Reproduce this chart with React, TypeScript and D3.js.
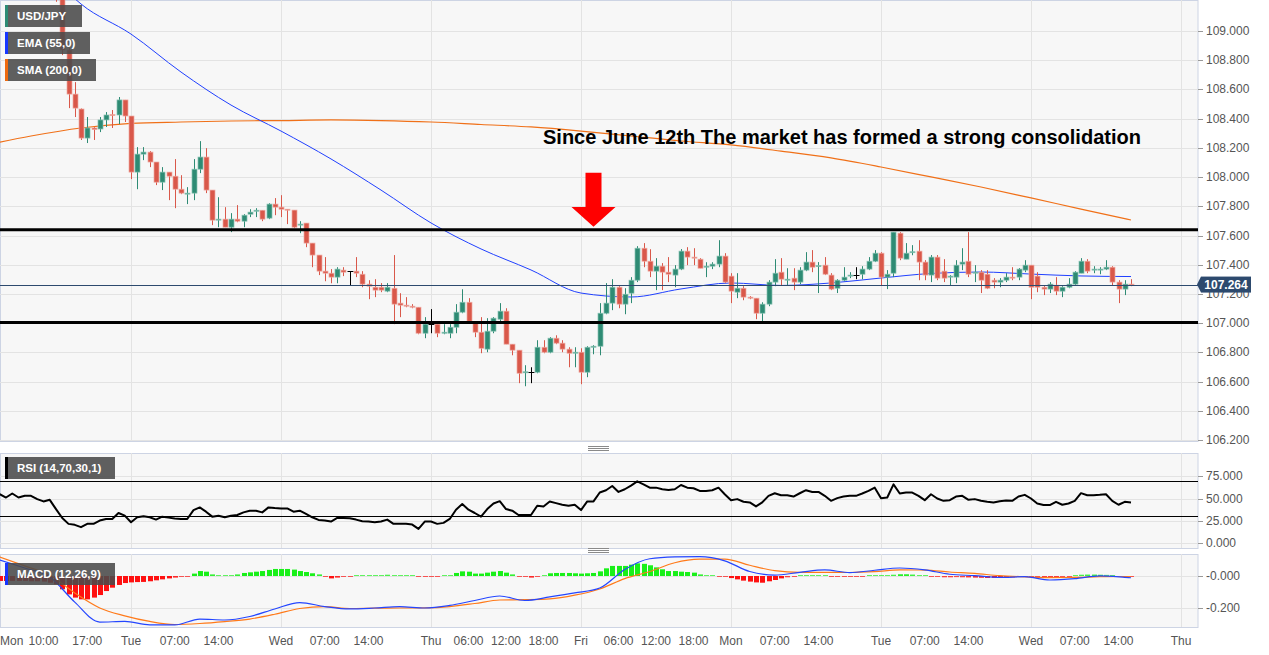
import * as d3 from 'd3';

// hourly candles, index 0 = Mon 00:00 (weekend hours removed)
const START = 12;
const OPEN = [109.45,109.3,108.87,108.568,108.466,108.267,108.336,108.329,108.391,108.428,108.425,108.528,108.418,108.034,108.157,108.171,108.103,107.965,108.034,108.006,107.917,107.887,107.89,108.054,108.137,107.911,107.709,107.712,107.657,107.712,107.698,107.746,107.77,107.773,107.719,107.815,107.794,107.78,107.774,107.674,107.685,107.548,107.466,107.356,107.342,107.315,107.363,107.356,107.356,107.335,107.267,107.246,107.246,107.219,107.239,107.137,107.123,107.116,107.109,106.931,106.993,106.993,106.931,106.931,106.972,107.075,107.143,107.0,106.938,106.822,106.945,107.027,107.082,106.856,106.815,106.66,106.664,106.664,106.835,106.801,106.897,106.863,106.822,106.797,106.801,106.664,106.835,106.842,107.068,107.137,107.246,107.13,107.205,107.294,107.513,107.424,107.356,107.39,107.349,107.329,107.37,107.493,107.452,107.438,107.383,107.39,107.404,107.459,107.322,107.212,107.239,107.178,107.171,107.068,107.13,107.281,107.349,107.298,107.308,107.281,107.363,107.418,107.39,107.397,107.329,107.239,107.294,107.322,107.329,107.335,107.37,107.424,107.479,107.315,107.342,107.616,107.438,107.486,107.493,107.418,107.329,107.452,107.356,107.315,107.315,107.404,107.424,107.342,107.349,107.335,107.294,107.281,107.294,107.315,107.315,107.363,107.397,107.322,107.246,107.233,107.26,107.219,107.246,107.267,107.342,107.424,107.363,107.366,107.37,107.383,107.281,107.233,107.267];
const HIGH = [109.5,109.35,108.883,108.65,108.47,108.411,108.343,108.411,108.445,108.459,108.548,108.528,108.418,108.205,108.205,108.178,108.103,108.068,108.034,108.123,108.013,107.931,108.123,108.246,108.198,107.911,107.862,107.794,107.753,107.808,107.746,107.78,107.787,107.773,107.821,107.856,107.876,107.78,107.774,107.698,107.685,107.548,107.466,107.452,107.37,107.383,107.383,107.356,107.452,107.356,107.294,107.301,107.274,107.274,107.466,107.205,107.178,107.13,107.109,107.041,107.096,107.0,106.993,106.993,107.13,107.232,107.171,107.013,107.041,107.034,107.041,107.137,107.102,106.856,106.815,106.712,106.698,106.883,106.883,106.904,106.917,106.883,106.835,106.835,106.828,106.842,106.849,107.137,107.274,107.301,107.253,107.239,107.315,107.527,107.548,107.506,107.445,107.411,107.452,107.397,107.507,107.52,107.513,107.445,107.417,107.417,107.568,107.479,107.342,107.342,107.253,107.185,107.171,107.143,107.294,107.438,107.445,107.376,107.376,107.383,107.486,107.5,107.418,107.452,107.342,107.301,107.383,107.349,107.383,107.39,107.452,107.5,107.486,107.363,107.623,107.623,107.548,107.534,107.568,107.431,107.466,107.466,107.438,107.329,107.431,107.513,107.623,107.397,107.363,107.363,107.308,107.308,107.342,107.383,107.377,107.431,107.397,107.349,107.26,107.281,107.315,107.253,107.308,107.356,107.445,107.438,107.39,107.383,107.431,107.39,107.294,107.294,107.301];
const LOW = [109.2,108.835,108.472,108.411,108.254,108.233,108.254,108.308,108.343,108.336,108.363,108.377,107.986,107.917,108.116,108.068,107.945,107.911,107.842,107.787,107.883,107.815,107.842,108.027,107.89,107.671,107.657,107.657,107.623,107.691,107.657,107.726,107.726,107.698,107.712,107.739,107.726,107.678,107.65,107.616,107.52,107.383,107.329,107.287,107.273,107.273,107.322,107.26,107.315,107.246,107.164,107.178,107.212,107.212,106.993,107.041,107.109,107.102,106.924,106.897,106.931,106.904,106.924,106.897,106.931,107.068,107.013,106.904,106.794,106.801,106.931,107.013,106.856,106.78,106.589,106.568,106.589,106.657,106.794,106.794,106.856,106.801,106.698,106.698,106.582,106.63,106.787,106.78,107.061,107.089,107.102,107.061,107.137,107.281,107.383,107.315,107.226,107.226,107.281,107.246,107.363,107.397,107.397,107.376,107.315,107.37,107.383,107.274,107.137,107.171,107.157,107.164,107.027,107.013,107.116,107.253,107.26,107.26,107.226,107.267,107.356,107.349,107.206,107.329,107.226,107.206,107.287,107.308,107.301,107.301,107.363,107.418,107.26,107.233,107.315,107.431,107.438,107.465,107.294,107.294,107.281,107.294,107.281,107.26,107.274,107.363,107.315,107.281,107.206,107.233,107.239,107.246,107.281,107.294,107.294,107.349,107.164,107.212,107.192,107.206,107.192,107.178,107.239,107.26,107.342,107.342,107.342,107.335,107.363,107.26,107.137,107.192,107.253];
const CLOSE = [109.25,108.87,108.568,108.472,108.267,108.336,108.325,108.391,108.425,108.421,108.528,108.418,108.034,108.157,108.171,108.103,107.965,108.034,108.006,107.917,107.89,107.89,108.054,108.137,107.911,107.705,107.712,107.657,107.712,107.698,107.739,107.76,107.773,107.712,107.815,107.794,107.78,107.777,107.657,107.678,107.548,107.466,107.356,107.342,107.315,107.37,107.349,107.356,107.342,107.267,107.253,107.226,107.226,107.246,107.13,107.123,107.116,107.109,106.931,106.993,106.993,106.931,106.938,106.972,107.075,107.143,107.013,106.938,106.828,106.945,107.034,107.082,106.856,106.815,106.657,106.667,106.664,106.835,106.801,106.897,106.863,106.822,106.794,106.801,106.664,106.835,106.842,107.068,107.137,107.246,107.13,107.198,107.294,107.513,107.424,107.356,107.39,107.349,107.335,107.37,107.493,107.452,107.445,107.376,107.39,107.404,107.459,107.281,107.219,107.239,107.178,107.171,107.068,107.13,107.281,107.342,107.301,107.301,107.281,107.363,107.418,107.383,107.394,107.335,107.233,107.294,107.315,107.329,107.329,107.37,107.424,107.479,107.315,107.335,107.623,107.445,107.479,107.489,107.418,107.329,107.452,107.308,107.308,107.322,107.397,107.418,107.335,107.349,107.294,107.239,107.281,107.294,107.315,107.308,107.37,107.397,107.246,107.246,107.233,107.267,107.219,107.246,107.267,107.349,107.424,107.356,107.37,107.37,107.383,107.281,107.233,107.267,107.264];

const EMA_IDX = [14,16,24,32,40,48,56,64,72,80,88,96,104,112,120,128,136,144,152,160,168,176,184];
const EMA_VAL = [109.26,109.185,108.979,108.719,108.493,108.315,108.124,107.911,107.686,107.508,107.364,107.206,107.179,107.234,107.275,107.258,107.275,107.309,107.34,107.35,107.336,107.323,107.319];
const SMA_IDX = [0,8,16,24,32,40,48,56,64,72,80,88,96,104,112,120,128,136,144,152,160,168,176,184];
const SMA_VAL = [108.212,108.281,108.336,108.367,108.377,108.384,108.387,108.391,108.387,108.377,108.36,108.343,108.315,108.281,108.247,108.22,108.178,108.131,108.069,108.001,107.932,107.857,107.781,107.706];

const LAST_PRICE = 107.264;
const LEVELS = [107.64, 107.005];
const NOTE = 'Since June 12th The market has formed a strong consolidation';
const ARROW = { at: 98, top: 108.03, neck: 107.795, tip: 107.66 };

const RSI_START = 3;
const RSI = [54.8,51.1,55.6,51.1,53.0,53.0,49.3,46.7,48.5,38.1,28.1,21.5,20.4,17.8,21.5,21.5,25.2,27.0,27.0,33.7,30.7,23.3,28.9,30.0,28.9,26.3,29.6,28.5,27.5,27.0,27.0,37.0,40.0,35.2,29.6,30.7,28.9,30.7,31.5,34.4,36.3,36.3,34.4,40.0,39.3,38.9,38.9,35.2,36.3,32.6,28.9,25.9,25.2,24.1,28.1,28.1,27.8,26.3,24.4,24.1,23.3,24.1,26.3,21.5,21.5,21.5,20.7,15.9,24.1,24.1,21.5,22.6,27.0,37.4,43.7,37.4,33.7,29.6,38.1,44.4,47.0,38.1,36.3,31.5,31.5,31.5,41.9,41.1,46.7,44.8,43.0,41.9,43.0,37.0,46.7,46.7,56.7,59.3,64.1,57.4,60.4,64.5,69.3,65.9,62.2,62.2,60.4,59.6,60.4,65.2,62.2,61.5,58.5,58.5,59.3,62.2,54.8,48.1,49.3,46.3,45.6,41.1,45.6,53.0,55.9,53.7,53.7,52.2,55.9,59.3,57.4,57.4,53.0,47.4,50.4,52.2,53.0,53.0,55.6,58.5,62.2,50.4,51.1,65.9,55.6,56.7,56.7,53.0,48.1,54.8,50.0,47.4,48.1,52.2,53.0,48.5,49.3,47.4,46.3,45.6,47.0,47.8,47.4,52.2,54.1,50.0,44.4,42.6,42.6,46.3,43.0,44.4,47.4,56.0,53.7,53.7,54.1,54.8,47.4,43.0,46.3,45.6];
const RSI_TICKS = [0, 25, 50, 75];
const RSI_BANDS = [70, 30];

const HIST_START = 3;
const HIST = [-0.031,-0.031,-0.031,-0.031,-0.031,-0.033,-0.033,-0.035,-0.042,-0.052,-0.083,-0.115,-0.135,-0.146,-0.146,-0.135,-0.119,-0.094,-0.073,-0.056,-0.044,-0.04,-0.038,-0.037,-0.033,-0.027,-0.021,-0.015,-0.01,-0.006,-0.002,0.015,0.031,0.027,0.01,0.004,0.002,0.006,0.01,0.019,0.023,0.027,0.031,0.038,0.044,0.044,0.044,0.04,0.031,0.025,0.017,0.01,-0.002,-0.015,-0.01,-0.006,-0.002,0.002,0.002,0.004,0.004,0.006,0.008,0.004,0.004,0.006,0.004,-0.004,-0.004,-0.002,-0.001,0.001,0.006,0.019,0.029,0.027,0.015,0.015,0.021,0.027,0.031,0.021,0.01,-0.004,-0.006,-0.01,-0.001,0.006,0.017,0.019,0.019,0.019,0.017,0.015,0.017,0.019,0.029,0.048,0.063,0.063,0.063,0.071,0.079,0.076,0.067,0.054,0.042,0.031,0.031,0.027,0.025,0.021,0.01,0.004,0.002,-0.002,-0.006,-0.013,-0.021,-0.029,-0.035,-0.04,-0.042,-0.033,-0.025,-0.015,-0.008,-0.004,0.002,0.003,0.004,0.003,0.002,-0.002,-0.002,-0.003,-0.002,-0.002,-0.001,0.002,0.004,0.003,0.002,0.008,0.011,0.011,0.009,0.005,0.003,-0.002,-0.006,-0.008,-0.008,-0.007,-0.008,-0.009,-0.01,-0.011,-0.012,-0.012,-0.011,-0.01,-0.009,-0.006,-0.004,-0.004,-0.006,-0.008,-0.008,-0.008,-0.006,-0.003,0.004,0.008,0.009,0.009,0.008,0.007,0.003,-0.001,-0.002,-0.001];
const MACD_IDX = [3,7,11,15,19,23,27,31,35,39,43,47,51,55,59,63,67,71,75,79,83,87,91,95,99,103,107,111,115,119,123,127,131,135,139,143,147,151,155,159,163,167,171,175,179,183,184];
const MACD_LINE = [0.1,0.05,-0.006,-0.163,-0.288,-0.284,-0.305,-0.306,-0.269,-0.275,-0.253,-0.206,-0.166,-0.191,-0.206,-0.2,-0.191,-0.2,-0.184,-0.153,-0.125,-0.153,-0.131,-0.106,-0.075,0.041,0.108,0.119,0.121,0.095,0.028,0.006,0.023,0.038,0.021,0.036,0.05,0.038,0.011,0.002,-0.009,-0.004,-0.025,-0.017,0.001,-0.008,-0.011];
const SIGNAL = [0.119,0.063,0.006,-0.106,-0.2,-0.249,-0.284,-0.303,-0.297,-0.285,-0.269,-0.239,-0.203,-0.192,-0.203,-0.201,-0.2,-0.199,-0.191,-0.172,-0.15,-0.148,-0.143,-0.12,-0.081,-0.016,0.028,0.083,0.105,0.106,0.067,0.033,0.023,0.023,0.022,0.027,0.038,0.037,0.025,0.016,0.002,-0.005,-0.01,-0.009,-0.004,-0.003,-0.003];
const MACD_TICKS = [0, -0.2];
const MACD_TICK_LABELS = ['-0.000', '-0.200'];

const PRICE_TICKS = d3.range(0, 15).map(k => +(106.2 + 0.2 * k).toFixed(1));
const DAY_STARTS = [24, 48, 72, 96, 120, 144, 168, 192];
const TIME_TICKS: [number, string][] = [
  [0, 'Mon'], [10, '10:00'], [17, '17:00'], [24, 'Tue'], [31, '07:00'], [38, '14:00'],
  [48, 'Wed'], [55, '07:00'], [62, '14:00'], [72, 'Thu'], [78, '06:00'], [84, '12:00'], [90, '18:00'],
  [96, 'Fri'], [102, '06:00'], [108, '12:00'], [114, '18:00'], [120, 'Mon'], [127, '07:00'], [134, '14:00'],
  [144, 'Tue'], [151, '07:00'], [158, '14:00'], [168, 'Wed'], [175, '07:00'], [182, '14:00'], [192, 'Thu'],
];

const UP = '#2e8b74', UP_EDGE = '#86c2b2';
const DOWN = '#d9584a', DOWN_EDGE = '#efaaa2';
const GRID = '#e3e3e3';
const BORDER = '#cdd4e4';
const FONT = 'Arial, "Liberation Sans", sans-serif';

const W = 1269, H = 655, PR = 1198;
const MAIN = { top: 0, bottom: 441 };
const RSIP = { top: 453, bottom: 548 };
const MACDP = { top: 554, bottom: 627 };

export default function App() {
  const x = d3.scaleLinear().domain([0, 192]).range([-19, 1181]);
  const yP = d3.scaleLinear().domain([106.2, 109]).range([440, 31]);
  const yR = d3.scaleLinear().domain([0, 100]).range([543, 454]);
  const yM = d3.scaleLinear().domain([-0.2, 0]).range([608, 576]);
  const px = (i: number) => Math.round(x(i)) + 0.5;

  const idxLine = (ys: (v: number) => number) =>
    d3.line<[number, number]>().x(d => x(d[0])).y(d => ys(d[1])).curve(d3.curveMonotoneX);

  const ema = idxLine(yP)(EMA_IDX.map((i, k) => [i, EMA_VAL[k]]));
  const sma = idxLine(yP)(SMA_IDX.map((i, k) => [i, SMA_VAL[k]]));
  const rsi = d3.line<number>().x((_, k) => x(RSI_START + k)).y(v => yR(v))(RSI);
  const macd = idxLine(yM)(MACD_IDX.map((i, k) => [i, MACD_LINE[k]]));
  const sig = idxLine(yM)(MACD_IDX.map((i, k) => [i, SIGNAL[k]]));

  const ax = x(ARROW.at);
  const arrow = [
    [ax - 8, yP(ARROW.top)], [ax + 8, yP(ARROW.top)], [ax + 8, yP(ARROW.neck)], [ax + 22, yP(ARROW.neck)],
    [ax, yP(ARROW.tip)], [ax - 22, yP(ARROW.neck)], [ax - 8, yP(ARROW.neck)],
  ].map(p => p.join(',')).join(' ');

  const panel = (p: { top: number; bottom: number }) => (
    <rect x={0.5} y={p.top + 0.5} width={PR - 0.5} height={p.bottom - p.top} fill="#f7f7f7" stroke={BORDER} />
  );
  const vgrid = (p: { top: number; bottom: number }) =>
    DAY_STARTS.map(d => <line key={d} x1={px(d)} x2={px(d)} y1={p.top} y2={p.bottom} stroke={GRID} />);
  const handle = (y: number) => (
    <g stroke="#8a8a8a">
      {[0, 2, 4].map(o => <line key={o} x1={588} x2={609} y1={y + o + 0.5} y2={y + o + 0.5} />)}
    </g>
  );
  const tag = (y: number, w: number, label: string, color: string) => (
    <g>
      <rect x={5} y={y} width={w} height={22} fill="#4a4a4a" opacity={0.88} />
      <rect x={5} y={y} width={3} height={22} fill={color} />
      <text x={17} y={y + 15} fill="#fff" fontSize={11.5} fontWeight="bold" fontFamily={FONT}>{label}</text>
    </g>
  );
  const yTick = (y: number, label: string, key: string | number) => (
    <g key={key}>
      <line x1={PR} x2={PR + 5} y1={Math.round(y) + 0.5} y2={Math.round(y) + 0.5} stroke="#999" />
      <text x={PR + 8} y={y + 4} fontSize={12} fill="#555" fontFamily={FONT}>{label}</text>
    </g>
  );

  return (
    <svg width={W} height={H} style={{ position: 'absolute', left: 0, top: 0, background: '#fff' }}>
      <defs>
        <clipPath id="cMain"><rect x={0} y={MAIN.top} width={PR} height={MAIN.bottom - MAIN.top} /></clipPath>
        <clipPath id="cRsi"><rect x={0} y={RSIP.top} width={PR} height={RSIP.bottom - RSIP.top} /></clipPath>
        <clipPath id="cMacd"><rect x={0} y={MACDP.top} width={PR} height={MACDP.bottom - MACDP.top} /></clipPath>
      </defs>

      {/* main price panel */}
      {panel(MAIN)}
      <g clipPath="url(#cMain)">
        {PRICE_TICKS.map(t => <line key={t} x1={0} x2={PR} y1={Math.round(yP(t)) + 0.5} y2={Math.round(yP(t)) + 0.5} stroke={GRID} />)}
        {vgrid(MAIN)}
        <path d={sma!} fill="none" stroke="#f07018" strokeWidth={1.2} />
        <path d={ema!} fill="none" stroke="#2040ff" strokeWidth={1} />
        {OPEN.map((o, k) => {
          const i = START + k;
          const c = CLOSE[k];
          const cx = px(i);
          const col = c > o ? UP : c < o ? DOWN : '#000';
          const t = yP(Math.max(o, c)), b = yP(Math.min(o, c));
          return (
            <g key={i}>
              <line x1={cx} x2={cx} y1={yP(HIGH[k])} y2={yP(LOW[k])} stroke={col} />
              {c === o
                ? <line x1={cx - 3} x2={cx + 3} y1={Math.round(t) + 0.5} y2={Math.round(t) + 0.5} stroke="#000" />
                : <rect x={cx - 2.5} y={t} width={5} height={Math.max(1, b - t)} fill={col}
                    stroke={c > o ? UP_EDGE : DOWN_EDGE} strokeWidth={0.7} />}
            </g>
          );
        })}
        {LEVELS.map(l => <line key={l} x1={0} x2={PR} y1={yP(l)} y2={yP(l)} stroke="#000" strokeWidth={3} />)}
        <line x1={0} x2={PR} y1={Math.round(yP(LAST_PRICE)) + 0.5} y2={Math.round(yP(LAST_PRICE)) + 0.5} stroke="#2d4a6e" />
        <polygon points={arrow} fill="#ff0000" />
        <text x={543} y={144} fontSize={20} fontWeight="bold" fontFamily={FONT} fill="#000">{NOTE}</text>
      </g>
      {tag(5, 77, 'USD/JPY', UP)}
      {tag(32, 85, 'EMA (55,0)', '#1737ff')}
      {tag(59, 91, 'SMA (200,0)', '#ee6a10')}
      {PRICE_TICKS.map(t => yTick(yP(t), t.toFixed(3), t))}
      <g>
        <polygon points={`${PR - 1},${yP(LAST_PRICE)} ${PR + 3},${yP(LAST_PRICE) - 8} ${PR + 3},${yP(LAST_PRICE) + 8}`} fill="#2d4a6e" />
        <rect x={PR + 3} y={yP(LAST_PRICE) - 8} width={50} height={16} fill="#2d4a6e" />
        <text x={PR + 28} y={yP(LAST_PRICE) + 4.5} textAnchor="middle" fill="#fff" fontSize={12} fontWeight="bold" fontFamily={FONT}>{LAST_PRICE.toFixed(3)}</text>
      </g>

      {handle(446)}

      {/* RSI panel */}
      {panel(RSIP)}
      <g clipPath="url(#cRsi)">
        {RSI_TICKS.map(t => <line key={t} x1={0} x2={PR} y1={Math.round(yR(t)) + 0.5} y2={Math.round(yR(t)) + 0.5} stroke={GRID} />)}
        {vgrid(RSIP)}
        {RSI_BANDS.map(b => <line key={b} x1={0} x2={PR} y1={Math.round(yR(b)) + 0.5} y2={Math.round(yR(b)) + 0.5} stroke="#000" />)}
        <path d={rsi!} fill="none" stroke="#000" strokeWidth={2} strokeLinejoin="round" />
      </g>
      {tag(457, 110, 'RSI (14,70,30,1)', '#000')}
      {RSI_TICKS.map(t => yTick(yR(t), t.toFixed(3), 'r' + t))}

      {handle(548)}

      {/* MACD panel */}
      {panel(MACDP)}
      <g clipPath="url(#cMacd)">
        {MACD_TICKS.map(t => <line key={t} x1={0} x2={PR} y1={Math.round(yM(t)) + 0.5} y2={Math.round(yM(t)) + 0.5} stroke={GRID} />)}
        {vgrid(MACDP)}
        {HIST.map((v, k) => {
          const i = HIST_START + k;
          const y0 = yM(0), y1 = yM(v);
          const h = Math.max(1, Math.abs(y1 - y0));
          return (
            <rect key={i} x={Math.round(x(i)) - 2} y={v >= 0 ? y0 - h : y0} width={5} height={h}
              fill={v >= 0 ? '#19f019' : '#ff1010'} opacity={Math.min(1, 0.35 + h / 3)} />
          );
        })}
        <path d={sig!} fill="none" stroke="#ff7a1a" strokeWidth={1.2} />
        <path d={macd!} fill="none" stroke="#2446ff" strokeWidth={1.2} />
      </g>
      {tag(563, 110, 'MACD (12,26,9)', '#1737ff')}
      {MACD_TICKS.map((t, k) => yTick(yM(t), MACD_TICK_LABELS[k], 'm' + k))}

      {/* time axis */}
      {TIME_TICKS.map(([i, label]) => {
        const tx = x(i);
        const left = tx < 14;
        return (
          <text key={i} x={left ? 0 : tx} y={645} textAnchor={left ? 'start' : 'middle'} fontSize={12} fill="#555" fontFamily={FONT}>{label}</text>
        );
      })}
    </svg>
  );
}
